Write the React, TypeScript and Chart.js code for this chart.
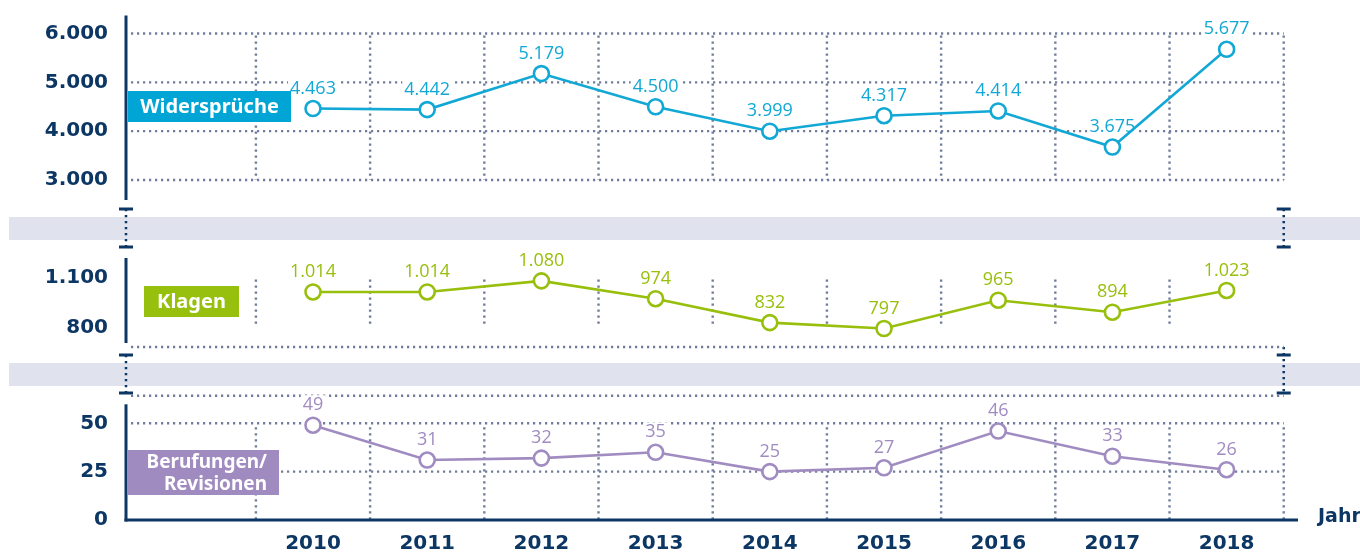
import React, { useEffect, useRef } from "react";
import { Chart, registerables } from "chart.js";

Chart.register(...registerables);

// ---------- data ----------
const years = ["2010", "2011", "2012", "2013", "2014", "2015", "2016", "2017", "2018"];
const widersprueche = [4463, 4442, 5179, 4500, 3999, 4317, 4414, 3675, 5677];
const klagen = [1014, 1014, 1080, 974, 832, 797, 965, 894, 1023];
const berufungen = [49, 31, 32, 35, 25, 27, 46, 33, 26];
const topTicks = [3000, 4000, 5000, 6000];
const midTicks = [800, 1100];
const botTicks = [0, 25, 50];
const labelTop = "Widersprüche";
const labelMid = "Klagen";
const labelBot = ["Berufungen/", "Revisionen"];
const xTitle = "Jahr";

// ---------- style ----------
const W = 1360;
const H = 555;
const NAVY = "#0c3663";
const GRID = "#6f7c9b";
const BAND = "#e0e3ee";
const CYAN = "#12a8d5";
const GREEN = "#98bf0c";
const PURPLE = "#a08cc1";
const TICK_FONT = { family: "'DejaVu Sans', sans-serif", weight: "bold" as const, size: 20 };
const VAL_FONT = "18px 'Open Sans', sans-serif";
const BOX_FONT = "bold 20px 'Noto Sans', sans-serif";
const X_MIN = -1.6375;
const X_MAX = 8.625;

const fmt = (v: number) => String(v).replace(/\B(?=(\d{3})+(?!\d))/g, ".");
const gridX = [...years.map((_, i) => i - 0.5), years.length - 0.5];

function dotted(ctx: CanvasRenderingContext2D, x1: number, y1: number, x2: number, y2: number, color = GRID, w = 2.4) {
  ctx.save();
  ctx.strokeStyle = color;
  ctx.lineWidth = w;
  ctx.setLineDash([2.2, 3.8]);
  ctx.beginPath();
  ctx.moveTo(x1, y1);
  ctx.lineTo(x2, y2);
  ctx.stroke();
  ctx.restore();
}
function solid(ctx: CanvasRenderingContext2D, x1: number, y1: number, x2: number, y2: number, color = NAVY, w = 3) {
  ctx.save();
  ctx.strokeStyle = color;
  ctx.lineWidth = w;
  ctx.beginPath();
  ctx.moveTo(x1, y1);
  ctx.lineTo(x2, y2);
  ctx.stroke();
  ctx.restore();
}
function breakMark(ctx: CanvasRenderingContext2D, x: number, y1: number, y2: number, yStart?: number) {
  dotted(ctx, x, yStart ?? y1, x, y2, NAVY, 2.5);
  solid(ctx, x - 7, y1, x + 7, y1, NAVY, 3);
  solid(ctx, x - 7, y2, x + 7, y2, NAVY, 3);
}
function drawValueLabels(chart: any, color: string) {
  const ctx = chart.ctx as CanvasRenderingContext2D;
  const meta = chart.getDatasetMeta(0);
  const ds = chart.data.datasets[0].data as { x: number; y: number }[];
  ctx.save();
  ctx.font = VAL_FONT;
  ctx.textAlign = "center";
  ctx.textBaseline = "middle";
  meta.data.forEach((pt: any, i: number) => {
    const txt = fmt(ds[i].y);
    const w = ctx.measureText(txt).width + 4;
    const cy = pt.y - 21;
    ctx.fillStyle = "#ffffff";
    ctx.fillRect(pt.x - w / 2, cy - 9, w, 18);
    ctx.fillStyle = color;
    ctx.fillText(txt, pt.x, cy + 1);
  });
  ctx.restore();
}
function drawBox(ctx: CanvasRenderingContext2D, x: number, y: number, w: number, h: number, color: string, lines: string[], align: "center" | "right", lineGap = 22, font = BOX_FONT) {
  ctx.save();
  ctx.fillStyle = color;
  ctx.fillRect(x, y, w, h);
  ctx.fillStyle = "#ffffff";
  ctx.font = font;
  ctx.textBaseline = "middle";
  ctx.textAlign = align;
  const tx = align === "center" ? x + w / 2 : x + w - 12;
  const cy = y + h / 2 - ((lines.length - 1) * lineGap) / 2;
  lines.forEach((l, i) => ctx.fillText(l, tx, cy + i * lineGap + 1));
  ctx.restore();
}

function makeConfig(opts: {
  values: number[];
  color: string;
  min: number;
  max: number;
  ticks: number[];
  padTop: number;
  padBottom: number;
  showX: boolean;
  decor: (chart: any) => void;
  before?: (chart: any) => void;
  after: (chart: any) => void;
}): any {
  return {
    type: "line",
    data: {
      datasets: [
        {
          data: opts.values.map((v, i) => ({ x: i, y: v })),
          borderColor: opts.color,
          borderWidth: 2.6,
          pointRadius: 7.5,
          pointBorderWidth: 2.6,
          pointBackgroundColor: "#ffffff",
          pointBorderColor: opts.color,
          tension: 0,
          clip: false,
        },
      ],
    },
    options: {
      responsive: false,
      maintainAspectRatio: false,
      animation: false,
      devicePixelRatio: 1,
      events: [],
      layout: { padding: { left: 0, right: 62, top: opts.padTop, bottom: opts.padBottom } },
      plugins: { legend: { display: false }, tooltip: { enabled: false } },
      scales: {
        x: {
          type: "linear",
          min: X_MIN,
          max: X_MAX,
          display: opts.showX,
          position: "bottom",
          grid: { display: false, drawTicks: false },
          border: { display: false },
          afterBuildTicks: (s: any) => {
            s.ticks = years.map((_, i) => ({ value: i }));
          },
          afterFit: (s: any) => {
            if (opts.showX) s.height = 35;
          },
          ticks: {
            autoSkip: false,
            maxRotation: 0,
            padding: 12,
            color: NAVY,
            font: TICK_FONT,
            callback: (v: number) => years[v] ?? "",
          },
        },
        y: {
          type: "linear",
          min: opts.min,
          max: opts.max,
          position: "left",
          grid: { display: false, drawTicks: false },
          border: { display: false },
          afterBuildTicks: (s: any) => {
            s.ticks = opts.ticks.map((v) => ({ value: v }));
          },
          afterFit: (s: any) => {
            s.width = 126;
          },
          ticks: {
            padding: 18,
            color: NAVY,
            font: TICK_FONT,
            callback: (v: number) => fmt(v),
          },
        },
      },
    },
    plugins: [
      {
        id: "decor",
        beforeDraw: (chart: any) => {
          if (opts.before) opts.before(chart);
        },
        beforeDatasetsDraw: (chart: any) => {
          opts.decor(chart);
          drawValueLabels(chart, opts.color);
        },
        afterDatasetsDraw: (chart: any) => opts.after(chart),
      },
    ],
  };
}

export default function App() {
  const r1 = useRef<HTMLCanvasElement>(null);
  const r2 = useRef<HTMLCanvasElement>(null);
  const r3 = useRef<HTMLCanvasElement>(null);

  useEffect(() => {
    const top = new Chart(
      r1.current as HTMLCanvasElement,
      makeConfig({
        values: widersprueche,
        color: CYAN,
        min: topTicks[0],
        max: topTicks[topTicks.length - 1],
        ticks: topTicks,
        padTop: 33.5,
        padBottom: H - 180,
        showX: false,
        decor: (chart) => {
          const { x, y } = chart.scales;
          const ca = chart.chartArea;
          const ctx = chart.ctx;
          const xr = x.getPixelForValue(gridX[gridX.length - 1]);
          topTicks.forEach((v) => dotted(ctx, ca.left + 5, y.getPixelForValue(v), xr, y.getPixelForValue(v)));
          gridX.forEach((g) => {
            const px = x.getPixelForValue(g);
            dotted(ctx, px, ca.top + 2, px, ca.bottom);
          });
          solid(ctx, ca.left, ca.top - 18, ca.left, ca.bottom + 20);
        },
        after: (chart) => {
          drawBox(chart.ctx, 128, 91, 163, 31, "#00a5d5", [labelTop], "center");
        },
      })
    );
    const mid = new Chart(
      r2.current as HTMLCanvasElement,
      makeConfig({
        values: klagen,
        color: GREEN,
        min: midTicks[0],
        max: midTicks[midTicks.length - 1],
        ticks: midTicks,
        padTop: 277.5,
        padBottom: H - 328,
        showX: false,
        before: (chart) => {
          const { x } = chart.scales;
          const ca = chart.chartArea;
          const ctx = chart.ctx as CanvasRenderingContext2D;
          const xr = x.getPixelForValue(gridX[gridX.length - 1]);
          ctx.save();
          ctx.fillStyle = BAND;
          ctx.fillRect(9, 217, W - 9, 23);
          ctx.fillRect(9, 363, W - 9, 23);
          ctx.restore();
          breakMark(ctx, ca.left, 209, 247);
          breakMark(ctx, xr, 209, 247);
          breakMark(ctx, ca.left, 355, 393);
          breakMark(ctx, xr, 355, 393, ca.bottom + 19);
        },
        decor: (chart) => {
          const { x } = chart.scales;
          const ca = chart.chartArea;
          const ctx = chart.ctx;
          const xr = x.getPixelForValue(gridX[gridX.length - 1]);
          gridX.slice(0, -1).forEach((g) => {
            const px = x.getPixelForValue(g);
            dotted(ctx, px, ca.top + 2, px, ca.bottom - 4);
          });
          dotted(ctx, ca.left + 5, ca.bottom + 19, xr, ca.bottom + 19);
          solid(ctx, ca.left, ca.top - 19.5, ca.left, ca.bottom + 15);
        },
        after: (chart) => {
          drawBox(chart.ctx, 144, 286, 95, 31, "#97bf0d", [labelMid], "center");
        },
      })
    );
    const bot = new Chart(
      r3.current as HTMLCanvasElement,
      makeConfig({
        values: berufungen,
        color: PURPLE,
        min: botTicks[0],
        max: botTicks[botTicks.length - 1],
        ticks: botTicks,
        padTop: 423.3,
        padBottom: 0,
        showX: true,
        decor: (chart) => {
          const { x, y } = chart.scales;
          const ca = chart.chartArea;
          const ctx = chart.ctx as CanvasRenderingContext2D;
          const xr = x.getPixelForValue(gridX[gridX.length - 1]);
          dotted(ctx, ca.left + 5, ca.top - 27.5, xr, ca.top - 27.5);
          botTicks.filter((v) => v > botTicks[0]).forEach((v) => dotted(ctx, ca.left + 5, y.getPixelForValue(v), xr, y.getPixelForValue(v)));
          gridX.forEach((g) => {
            const px = x.getPixelForValue(g);
            dotted(ctx, px, ca.top + 4, px, ca.bottom);
          });
          solid(ctx, ca.left, ca.top - 19, ca.left, ca.bottom + 1.5);
          solid(ctx, ca.left - 1.5, ca.bottom, ca.right, ca.bottom);
          ctx.save();
          ctx.fillStyle = NAVY;
          ctx.font = "bold 19px 'DejaVu Sans', sans-serif";
          ctx.textAlign = "left";
          ctx.textBaseline = "middle";
          ctx.fillText(xTitle, ca.right + 20, ca.bottom - 3);
          ctx.restore();
        },
        after: (chart) => {
          drawBox(chart.ctx, 128, 450, 151, 45, "#9f8bbf", labelBot, "right", 22, "bold 19px 'Noto Sans', sans-serif");
        },
      })
    );
    return () => {
      top.destroy();
      mid.destroy();
      bot.destroy();
    };
  }, []);

  const cs: React.CSSProperties = { position: "absolute", left: 0, top: 0, width: W, height: H };
  return (
    <div style={{ position: "absolute", left: 0, top: 0, width: W, height: H, background: "#ffffff", overflow: "hidden" }}>
      <canvas ref={r2} width={W} height={H} style={cs} />
      <canvas ref={r1} width={W} height={H} style={cs} />
      <canvas ref={r3} width={W} height={H} style={cs} />
    </div>
  );
}
